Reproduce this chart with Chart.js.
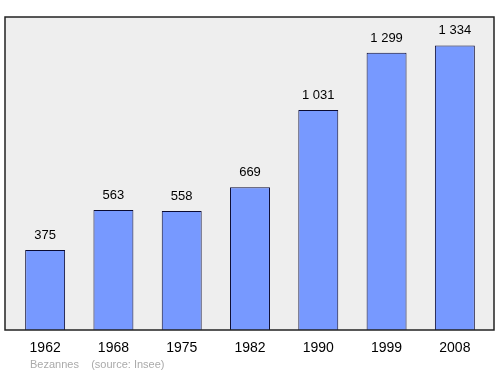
<!DOCTYPE html>
<html><head><meta charset="utf-8">
<script src="https://cdn.jsdelivr.net/npm/chart.js@4.4.0/dist/chart.umd.min.js"></script>
<style>html,body{margin:0;padding:0;background:#fff}#w{width:500px;height:374px}</style>
</head><body><div id="w"><canvas id="c"></canvas></div>
<script>
const categories = ["1962","1968","1975","1982","1990","1999","2008"];
const population = [375,563,558,669,1031,1299,1334];
const footerText = "Bezannes    (source: Insee)";

function fmt(v){return String(v).replace(/\B(?=(\d{3})+(?!\d))/g," ");}

const bgPlugin = {
  id:'bg',
  beforeDraw(chart){
    const {ctx, chartArea:a} = chart;
    ctx.save();
    ctx.fillStyle = '#eeeeee';
    ctx.fillRect(a.left-6, a.top, a.right-a.left+11, a.bottom-a.top);
    ctx.restore();
  },
  afterDatasetsDraw(chart){
    const {ctx, chartArea:a} = chart;
    ctx.save();
    ctx.strokeStyle = '#222';
    ctx.lineWidth = 1.5;
    ctx.strokeRect(a.left-6, a.top, a.right-a.left+11, a.bottom-a.top);
    const meta = chart.getDatasetMeta(0);
    ctx.fillStyle = '#000';
    ctx.font = '13px "Liberation Sans", Arial, sans-serif';
    ctx.textAlign = 'center';
    ctx.textBaseline = 'middle';
    meta.data.forEach((el,i)=>{
      ctx.fillText(fmt(population[i]), el.x, el.y-14.5);
    });
    ctx.fillStyle = '#aaaaaa';
    ctx.font = '11px "Liberation Sans", Arial, sans-serif';
    ctx.textAlign = 'left';
    ctx.fillText(footerText, a.left+19, 365);
    ctx.restore();
  }
};

new Chart(document.getElementById('c'), {
  type:'bar',
  data:{labels:categories, datasets:[{data:population, backgroundColor:'#7799ff', borderColor:'#0a0a33', borderWidth:1, barPercentage:0.585, categoryPercentage:1}]},
  options:{
    responsive:true, maintainAspectRatio:false, animation:false,
    layout:{padding:{left:11,right:11,top:17,bottom:0}},
    plugins:{legend:{display:false}, tooltip:{enabled:false}},
    scales:{
      x:{grid:{display:false,drawTicks:false}, border:{display:false},
         ticks:{color:'#000', font:{size:14, family:'"Liberation Sans", Arial, sans-serif'}, padding:10, maxRotation:0},
         afterFit(s){s.height=44;}},
      y:{display:false, min:0, max:1467}
    }
  },
  plugins:[bgPlugin]
});
</script></body></html>
